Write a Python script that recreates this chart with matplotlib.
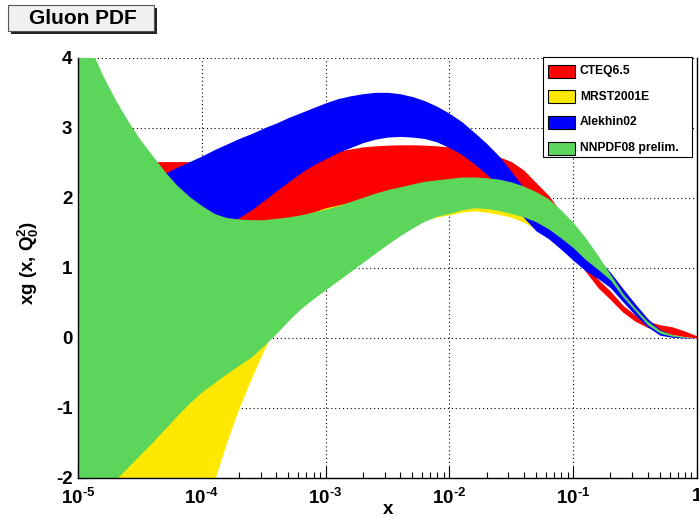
import numpy as np
import matplotlib
matplotlib.use("Agg")
import matplotlib.pyplot as plt
from matplotlib.patches import Rectangle
from matplotlib.ticker import LogLocator, NullFormatter

plt.rcParams['font.family'] = ['Liberation Sans', 'DejaVu Sans']
plt.rcParams['font.weight'] = 'bold'
plt.rcParams['mathtext.fontset'] = 'custom'
plt.rcParams['mathtext.rm'] = 'Liberation Sans:bold'
plt.rcParams['mathtext.it'] = 'Liberation Sans:bold'
plt.rcParams['mathtext.bf'] = 'Liberation Sans:bold'
plt.rcParams['mathtext.sf'] = 'Liberation Sans:bold'
plt.rcParams['axes.unicode_minus'] = False

# sampling points in log10(x)
log10_x = [-5.0, -4.9, -4.8, -4.7, -4.6, -4.5, -4.4, -4.3, -4.2, -4.1,
           -4.0, -3.9, -3.8, -3.7, -3.6, -3.5, -3.4, -3.3, -3.2, -3.1,
           -3.0, -2.9, -2.8, -2.7, -2.6, -2.5, -2.4, -2.3, -2.2, -2.1,
           -2.0, -1.9, -1.8, -1.7, -1.6, -1.5, -1.4, -1.3, -1.2, -1.1,
           -1.0, -0.9, -0.8, -0.7, -0.6, -0.5, -0.4, -0.3, -0.2, -0.1,
           0.0]

# xg(x, Q0^2) uncertainty bands: upper / lower edges
cteq_hi = [2.52, 2.52, 2.52, 2.52, 2.52, 2.52, 2.52, 2.52, 2.52, 2.52,
           2.53, 2.53, 2.53, 2.535, 2.54, 2.545, 2.55, 2.56, 2.57, 2.60,
           2.63, 2.67, 2.70, 2.73, 2.745, 2.755, 2.76, 2.76, 2.755, 2.745,
           2.73, 2.70, 2.66, 2.63, 2.59, 2.52, 2.40, 2.22, 2.04, 1.80,
           1.40, 1.05, 0.84, 0.67, 0.47, 0.33, 0.24, 0.19, 0.16, 0.10,
           0.03]
cteq_lo = [1.30, 1.325, 1.35, 1.375, 1.40, 1.425, 1.45, 1.475, 1.50, 1.52,
           1.54, 1.56, 1.58, 1.605, 1.63, 1.66, 1.69, 1.715, 1.74, 1.80,
           1.86, 1.90, 1.94, 1.98, 2.01, 2.03, 2.05, 2.07, 2.08, 2.09,
           2.10, 2.09, 2.07, 2.04, 2.00, 1.93, 1.85, 1.72, 1.55, 1.38,
           1.18, 0.95, 0.72, 0.55, 0.37, 0.24, 0.15, 0.09, 0.05, 0.02,
           0.0]

mrst_hi = [0.40, 0.475, 0.55, 0.625, 0.70, 0.775, 0.85, 0.925, 1.00, 1.075,
           1.15, 1.225, 1.30, 1.375, 1.45, 1.525, 1.60, 1.69, 1.78, 1.85,
           1.92, 1.96, 2.00, 2.05, 2.10, 2.15, 2.20, 2.25, 2.30, 2.33,
           2.35, 2.35, 2.35, 2.33, 2.30, 2.25, 2.15, 2.00, 1.85, 1.65,
           1.45, 1.20, 1.00, 0.80, 0.58, 0.38, 0.20, 0.08, 0.03, 0.01,
           0.0]
mrst_lo = [-7.0, -6.65, -6.3, -5.95, -5.6, -5.2, -4.8, -4.35, -3.9, -3.25,
           -2.65, -2.08, -1.52, -1.03, -0.60, -0.20, 0.15, 0.40, 0.60, 0.80,
           0.95, 1.08, 1.20, 1.31, 1.40, 1.48, 1.55, 1.62, 1.68, 1.72,
           1.75, 1.79, 1.81, 1.79, 1.76, 1.72, 1.65, 1.55, 1.42, 1.28,
           1.13, 0.98, 0.86, 0.73, 0.53, 0.34, 0.17, 0.05, 0.012, 0.0,
           0.0]

alek_hi = [1.60, 1.70, 1.81, 1.91, 2.02, 2.14, 2.25, 2.35, 2.44, 2.52,
           2.60, 2.69, 2.77, 2.85, 2.92, 3.00, 3.07, 3.15, 3.22, 3.29,
           3.36, 3.42, 3.46, 3.49, 3.51, 3.51, 3.49, 3.45, 3.39, 3.31,
           3.21, 3.09, 2.94, 2.78, 2.60, 2.38, 2.15, 1.98, 1.82, 1.66,
           1.51, 1.31, 1.13, 0.94, 0.71, 0.49, 0.28, 0.12, 0.045, 0.01,
           0.0]
alek_lo = [0.50, 0.59, 0.68, 0.77, 0.85, 0.94, 1.02, 1.11, 1.20, 1.30,
           1.41, 1.51, 1.61, 1.72, 1.83, 1.96, 2.10, 2.23, 2.36, 2.47,
           2.56, 2.65, 2.72, 2.79, 2.84, 2.87, 2.88, 2.87, 2.85, 2.80,
           2.72, 2.62, 2.49, 2.34, 2.17, 1.95, 1.72, 1.53, 1.42, 1.27,
           1.11, 0.96, 0.85, 0.72, 0.52, 0.33, 0.16, 0.04, 0.01, 0.0,
           0.0]

nnpdf_hi = [4.55, 4.15, 3.75, 3.41, 3.11, 2.84, 2.61, 2.38, 2.18, 2.02,
            1.89, 1.78, 1.72, 1.70, 1.69, 1.69, 1.71, 1.73, 1.76, 1.80,
            1.84, 1.89, 1.95, 2.01, 2.07, 2.12, 2.16, 2.20, 2.24, 2.26,
            2.28, 2.30, 2.30, 2.29, 2.27, 2.23, 2.17, 2.09, 1.99, 1.83,
            1.65, 1.43, 1.18, 0.91, 0.64, 0.43, 0.24, 0.11, 0.05, 0.015,
            0.0]
nnpdf_lo = [-2.6, -2.41, -2.22, -2.03, -1.85, -1.67, -1.49, -1.30, -1.11, -0.93,
            -0.77, -0.64, -0.51, -0.39, -0.27, -0.11, 0.06, 0.25, 0.42, 0.56,
            0.69, 0.82, 0.95, 1.08, 1.21, 1.34, 1.46, 1.57, 1.67, 1.74,
            1.78, 1.83, 1.86, 1.85, 1.82, 1.78, 1.73, 1.66, 1.56, 1.43,
            1.29, 1.12, 0.98, 0.83, 0.59, 0.39, 0.19, 0.07, 0.025, 0.008,
            0.0]

legend_names = ['CTEQ6.5', 'MRST2001E', 'Alekhin02', 'NNPDF08 prelim.']
colors = {'CTEQ6.5': '#ff0000', 'MRST2001E': '#ffe800',
          'Alekhin02': '#0000ff', 'NNPDF08 prelim.': '#5bd65b'}
bands = {'CTEQ6.5': (cteq_lo, cteq_hi), 'MRST2001E': (mrst_lo, mrst_hi),
         'Alekhin02': (alek_lo, alek_hi), 'NNPDF08 prelim.': (nnpdf_lo, nnpdf_hi)}
draw_order = ['MRST2001E', 'CTEQ6.5', 'Alekhin02', 'NNPDF08 prelim.']

xtick_vals = [1e-5, 1e-4, 1e-3, 1e-2, 1e-1, 1.0]
xtick_labels = [r'$10^{\text{-5}}$', r'$10^{\text{-4}}$', r'$10^{\text{-3}}$',
                r'$10^{\text{-2}}$', r'$10^{\text{-1}}$', '1']
ytick_vals = [-2, -1, 0, 1, 2, 3, 4]

W, H = 699, 517
fig = plt.figure(figsize=(W / 100, H / 100), dpi=100)
ax = fig.add_axes([78 / W, 1 - 478 / H, 619 / W, 420 / H])

x = 10 ** np.array(log10_x)
for name in draw_order:
    lo, hi = bands[name]
    ax.fill_between(x, lo, hi, color=colors[name], linewidth=0)

ax.set_xscale('log')
ax.set_xlim(1e-5, 1)
ax.set_ylim(-2, 4)
ax.set_xticks(xtick_vals, xtick_labels)
ax.xaxis.set_minor_locator(LogLocator(base=10, subs=np.arange(2, 10), numticks=20))
ax.xaxis.set_minor_formatter(NullFormatter())
ax.set_yticks(ytick_vals, [str(v) for v in ytick_vals])

ax.set_axisbelow(True)
ax.grid(True, which='major', linestyle=(0, (1, 2.5)), color='black', linewidth=0.8)
ax.tick_params(which='both', direction='in', top=False, right=False, width=0.8, colors='black')
ax.tick_params(which='major', length=8.5)
ax.tick_params(which='minor', length=4.3)
ax.tick_params(axis='x', pad=7, labelsize=13.5)
ax.tick_params(axis='y', pad=4, labelsize=13.5)
ax.spines['top'].set_visible(False)
for s in ('left', 'bottom', 'right'):
    ax.spines[s].set_linewidth(1.0)

# axis titles
fig.text(28 / W, 1 - 263 / H, r'xg (x, $\mathrm{Q}_0^2$)', rotation=90,
         ha='center', va='center', fontsize=13.5, fontweight='bold')
fig.text(388 / W, 1 - 510 / H, 'x', ha='center', va='center',
         fontsize=13.5, fontweight='bold')

# title box with shadow
fig.add_artist(Rectangle((11 / W, 1 - 34 / H), 146 / W, 26 / H,
                         transform=fig.transFigure, facecolor='#222222',
                         edgecolor='none'))
fig.add_artist(Rectangle((8 / W, 1 - 31 / H), 146 / W, 26 / H,
                         transform=fig.transFigure, facecolor='#f0f0f0',
                         edgecolor='#555555', linewidth=0.8))
fig.text(83 / W, 1 - 18.5 / H, 'Gluon PDF', ha='center', va='center',
         fontsize=15, fontweight='bold')

# legend
fig.add_artist(Rectangle((543 / W, 1 - 157 / H), 149 / W, 100 / H,
                         transform=fig.transFigure, facecolor='white',
                         edgecolor='black', linewidth=0.8, zorder=5))
for i, name in enumerate(legend_names):
    yc = 71 + 25.7 * i
    fig.add_artist(Rectangle((548 / W, 1 - (yc + 6.5) / H), 27 / W, 13 / H,
                             transform=fig.transFigure, facecolor=colors[name],
                             edgecolor='black', linewidth=0.8, zorder=6))
    fig.text(580 / W, 1 - yc / H, name, ha='left', va='center',
             fontsize=8.7, fontweight='bold', zorder=7)

fig.savefig('out.png', dpi=100)
